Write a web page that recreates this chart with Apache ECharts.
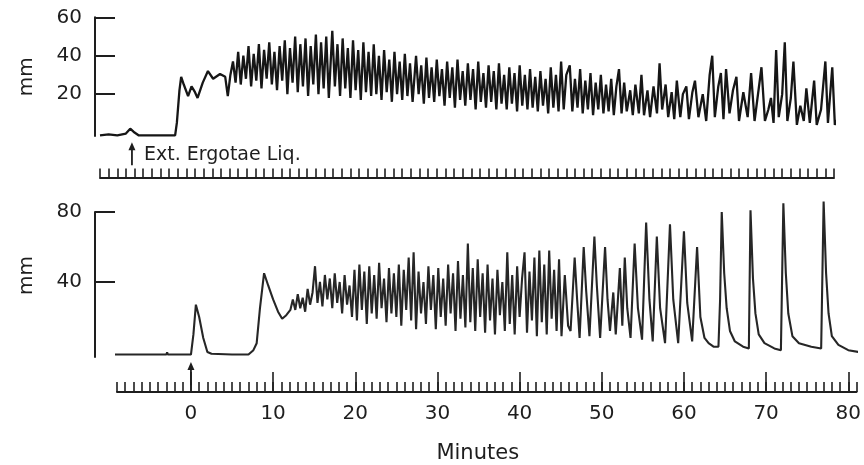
<!DOCTYPE html>
<html>
<head>
<meta charset="utf-8">
<script src="https://cdn.jsdelivr.net/npm/echarts@6/dist/echarts.min.js"></script>
<style>
html,body{margin:0;padding:0;background:#fff;}
#chart{width:864px;height:465px;}
</style>
</head>
<body>
<div id="chart"></div>
<script>
// ---------- DATA ----------
// Top tracing: [time (chart units), mm]
const topTrace = [
 [0,-1.5],[1,-1],[2,-1.5],[3.0,-0.5],[3.5,2],[4.0,0],[4.5,-1.5],[8.7,-1.5],[8.9,5],[9.2,22],[9.4,29],[9.7,25],
 [10.2,19],[10.6,24],[11.0,21],[11.3,18],[11.9,26],[12.5,32],[13.1,28],[13.9,30.5],[14.5,29],[14.8,19],[15.1,30],
 [15.4,37],[15.7,26],[16.0,42],[16.3,25],[16.6,40],[16.9,28],[17.2,45],[17.5,24],[17.8,41],[18.1,27],[18.4,46],[18.7,23],
 [19.0,43],[19.3,28],[19.6,47],[19.9,25],[20.2,42],[20.5,22],[20.8,45],[21.1,27],[21.4,48],[21.7,20],[22.0,44],[22.3,26],
 [22.6,50],[22.9,21],[23.2,46],[23.5,24],[23.8,49],[24.1,19],[24.4,45],[24.7,25],[25.0,51],[25.3,20],[25.6,47],[25.9,23],
 [26.2,50],[26.5,18],[26.9,53],[27.2,24],[27.5,46],[27.8,19],[28.1,49],[28.4,23],[28.7,44],[29.0,18],[29.3,48],[29.6,22],
 [29.9,43],[30.2,17],[30.5,47],[30.8,21],[31.1,42],[31.4,19],[31.7,46],[32.0,20],[32.3,40],[32.6,17],[32.9,43],[33.2,21],
 [33.5,38],[33.8,16],[34.1,42],[34.4,20],[34.7,37],[35.0,17],[35.3,41],[35.6,19],[35.9,36],[36.2,16],[36.6,40],[36.9,20],
 [37.2,35],[37.5,15],[37.8,39],[38.1,18],[38.4,34],[38.7,16],[39.0,38],[39.3,19],[39.6,33],[39.9,14],[40.2,37],[40.5,18],
 [40.8,34],[41.1,13],[41.4,38],[41.7,17],[42.0,32],[42.3,14],[42.6,36],[42.9,17],[43.2,33],[43.5,12],[43.8,37],[44.1,16],
 [44.4,31],[44.7,13],[45.0,35],[45.3,16],[45.6,32],[45.9,12],[46.2,36],[46.5,15],[46.8,30],[47.1,12],[47.4,34],[47.7,15],
 [48.0,31],[48.3,11],[48.6,35],[48.9,14],[49.2,30],[49.5,12],[49.8,33],[50.1,13],[50.4,29],[50.7,11],[51.0,32],[51.3,14],
 [51.6,28],[51.9,10],[52.2,34],[52.5,13],[52.8,30],[53.1,11],[53.4,37],[53.7,12],[54.0,30],[54.4,35],[54.7,11],[55.0,28],
 [55.3,13],[55.6,33],[55.9,10],[56.2,27],[56.5,12],[56.8,31],[57.1,9],[57.4,26],[57.7,12],[58.0,30],[58.3,10],[58.6,25],
 [58.9,11],[59.2,28],[59.5,9],[59.8,24],[60.1,33],[60.4,10],[60.7,26],[61.0,11],[61.4,22],[61.7,9],[62.0,25],[62.4,10],
 [62.7,30],[63.0,9],[63.4,22],[63.7,8],[64.1,24],[64.5,10],[64.8,36],[65.1,12],[65.5,25],[65.8,8],[66.2,21],[66.5,7],
 [66.8,27],[67.2,8],[67.5,20],[67.9,24],[68.2,7],[68.6,21],[68.9,27],[69.3,8],[69.8,20],[70.2,6],[70.6,30],[70.9,40],
 [71.2,8],[71.6,24],[71.9,31],[72.2,7],[72.5,33],[72.9,10],[73.3,22],[73.7,29],[74.0,6],[74.5,21],[75.0,8],[75.4,31],
 [75.8,6],[76.2,20],[76.6,34],[77.0,6],[77.4,12],[77.7,18],[78.0,5],[78.3,43],[78.6,8],[79.0,20],[79.3,47],[79.6,6],
 [80.0,18],[80.3,37],[80.7,4],[81.1,14],[81.5,6],[81.8,23],[82.2,5],[82.7,27],[83.0,4],[83.5,12],[84.0,37],[84.3,5],
 [84.8,34],[85.1,4],[85.6,9],[86.0,7],[86.4,10]
];
// Bottom tracing: [minutes, mm]
const bottomTrace = [
 [-10.5,-1.5],[-6.5,-1.5],[-6.4,-0.5],[-6.3,-1.5],[-3.0,-1.5],[-2.9,-0.3],[-2.8,-1.5],[0,-1.5],[0.3,10],[0.6,27],
 [1.0,20],[1.5,8],[2.0,0],[2.5,-1],[5,-1.5],[7.0,-1.5],[7.6,1],[8.0,5],[8.4,25],[8.9,45],[9.4,38],[10.0,30],[10.6,23],
 [11.1,19],[11.6,21],[12.1,24],
 [12.4,30],[12.7,24],[13.0,33],[13.3,25],[13.6,31],[13.9,23],[14.2,36],[14.5,27],[14.8,34],[15.1,49],[15.4,28],[15.7,40],
 [16.0,26],[16.3,44],[16.6,30],[16.9,42],[17.2,25],[17.5,45],[17.8,28],[18.1,40],[18.4,22],[18.7,44],[19.0,27],[19.3,38],
 [19.6,20],[19.9,47],[20.2,18],[20.5,50],[20.8,24],[21.1,46],[21.4,16],[21.7,49],[22.0,22],[22.3,44],[22.6,19],[22.9,51],
 [23.2,25],[23.5,42],[23.8,17],[24.1,48],[24.4,22],[24.7,45],[25.0,20],[25.3,50],[25.6,15],[25.9,47],[26.2,24],[26.5,54],
 [26.8,18],[27.1,57],[27.4,13],[27.7,46],[28.0,22],[28.3,40],[28.6,16],[28.9,49],[29.2,24],[29.5,44],[29.8,13],[30.1,48],
 [30.4,20],[30.7,42],[31.0,15],[31.3,50],[31.6,22],[31.9,45],[32.2,12],[32.5,52],[32.8,19],[33.1,44],[33.4,14],[33.7,62],
 [34.0,17],[34.3,48],[34.6,12],[34.9,53],[35.2,20],[35.5,45],[35.8,11],[36.1,50],[36.4,18],[36.7,42],[37.0,10],[37.3,47],
 [37.6,21],[37.9,40],[38.2,12],[38.5,57],[38.8,16],[39.1,44],[39.4,10],[39.7,49],[40.0,20],[40.3,42],[40.6,57],[40.9,11],
 [41.2,46],[41.5,18],[41.8,54],[42.1,9],[42.4,58],[42.7,17],[43.0,50],[43.3,10],[43.6,58],[43.9,19],[44.2,47],[44.5,12],
 [44.8,53],[45.1,9],[45.5,44],[45.9,15],
 [46.2,12],[46.7,54],[47.0,30],[47.3,8],[47.8,60],[48.1,35],[48.5,9],[49.1,66],[49.4,38],[49.8,8],[50.4,60],[50.7,30],
 [51.0,12],[51.4,34],[51.7,10],[52.2,48],[52.5,15],[52.8,54],[53.1,25],[53.5,8],[54.0,62],[54.4,25],[54.9,7],[55.4,74],
 [55.8,30],[56.2,6],[56.7,66],[57.1,25],[57.7,5],[58.3,73],[58.7,30],[59.3,5],[60.0,69],[60.4,28],[61.0,6],[61.6,60],
 [62.0,20],[62.5,8],[63.0,5],[63.6,3],[64.2,3],[64.4,30],[64.6,80],[64.9,45],[65.2,25],[65.6,12],[66.2,6],[67.2,3],
 [67.9,2],[68.1,81],[68.4,42],[68.7,22],[69.1,10],[69.8,5],[71.0,2],[71.8,1],[72.1,85],[72.4,45],[72.7,22],[73.2,9],
 [74.0,5],[75.5,3],[76.7,2],[77.0,86],[77.3,45],[77.6,22],[78.0,9],[78.8,4],[80.0,1],[81.2,0]
];
const topYTicks = [20, 40, 60];
const bottomYTicks = [40, 80];
const bottomXLabels = [0, 10, 20, 30, 40, 50, 60, 70, 80];
const topArrowAt = 3.7;      // chart units, top panel
const bottomArrowAt = 0;     // minutes, bottom panel
const annotation = 'Ext. Ergotae Liq.';

// ---------- CHART ----------
const FONT = 'DejaVu Sans';
const INK = '#1e1e1e';
function range(a, b) { const r = []; for (let v = a; v <= b; v++) r.push(v); return r; }

const chart = echarts.init(document.getElementById('chart'));
const yAxisBase = {
  type: 'value', position: 'left',
  axisLine: { show: true, onZero: false, lineStyle: { color: INK, width: 2 } },
  axisTick: { show: true, inside: true, length: 20, lineStyle: { color: INK, width: 2 } },
  axisLabel: { color: INK, fontFamily: FONT, fontSize: 20, margin: 13 },
  splitLine: { show: false },
  name: 'mm', nameLocation: 'middle', nameRotate: 90,
  nameTextStyle: { color: INK, fontFamily: FONT, fontSize: 20 }
};
chart.setOption({
  animation: false,
  backgroundColor: '#ffffff',
  grid: [
    { left: 100, width: 734, top: 17.3, height: 118.7 },
    { left: 117, width: 740, top: 212, height: 145 }
  ],
  xAxis: [
    { type: 'value', gridIndex: 0, position: 'bottom', min: 0, max: 85, offset: 41.5,
      axisLine: { onZero: false, lineStyle: { color: INK, width: 2 } },
      axisTick: { inside: true, length: 9, customValues: range(0, 85), lineStyle: { color: INK, width: 1.6 } },
      axisLabel: { show: false }, splitLine: { show: false } },
    { type: 'value', gridIndex: 1, position: 'bottom', min: -9, max: 81, offset: 35,
      axisLine: { onZero: false, lineStyle: { color: INK, width: 2 } },
      axisTick: { inside: true, length: 10, customValues: range(-9, 81), lineStyle: { color: INK, width: 1.6 } },
      axisLabel: { show: false }, splitLine: { show: false } },
    { type: 'value', gridIndex: 1, position: 'bottom', min: -9, max: 81, offset: 35,
      axisLine: { show: false, onZero: false },
      axisTick: { inside: true, length: 20, customValues: bottomXLabels, lineStyle: { color: INK, width: 1.6 } },
      axisLabel: { customValues: bottomXLabels, color: INK, fontFamily: FONT, fontSize: 20, margin: 12 },
      splitLine: { show: false },
      name: 'Minutes', nameLocation: 'middle', nameGap: 51,
      nameTextStyle: { color: INK, fontFamily: FONT, fontSize: 21, padding: [0, 18, 0, 0] } }
  ],
  yAxis: [
    Object.assign({}, yAxisBase, { gridIndex: 0, min: -1.8, max: 60, offset: 5, nameGap: 58,
      axisTick: Object.assign({}, yAxisBase.axisTick, { customValues: topYTicks }),
      axisLabel: Object.assign({}, yAxisBase.axisLabel, { customValues: topYTicks }) }),
    Object.assign({}, yAxisBase, { gridIndex: 1, min: -2.9, max: 80, offset: 22, nameGap: 58,
      nameTextStyle: Object.assign({}, yAxisBase.nameTextStyle, { padding: [0, 0, 0, 18] }),
      axisTick: Object.assign({}, yAxisBase.axisTick, { customValues: bottomYTicks }),
      axisLabel: Object.assign({}, yAxisBase.axisLabel, { customValues: bottomYTicks }) })
  ],
  series: [
    { type: 'line', xAxisIndex: 0, yAxisIndex: 0, data: topTrace, showSymbol: false, clip: false,
      lineStyle: { color: '#161616', width: 2.3 } },
    { type: 'line', xAxisIndex: 1, yAxisIndex: 1, data: bottomTrace, showSymbol: false, clip: false,
      lineStyle: { color: '#262626', width: 2.1 } }
  ]
});

// annotation arrows (positions derived through the axes)
const tA = chart.convertToPixel({ gridIndex: 0 }, [topArrowAt, -5]);
const tB = chart.convertToPixel({ gridIndex: 0 }, [topArrowAt, -17]);
const bA = chart.convertToPixel({ gridIndex: 1 }, [bottomArrowAt, -5.8]);
const bB = chart.convertToPixel({ gridIndex: 1 }, [bottomArrowAt, -19]);
function arrow(head, tail) {
  return [
    { type: 'line', shape: { x1: head[0], y1: head[1] + 5, x2: tail[0], y2: tail[1] }, style: { stroke: INK, lineWidth: 1.8 } },
    { type: 'polygon', shape: { points: [[head[0], head[1]], [head[0] - 3.5, head[1] + 8], [head[0] + 3.5, head[1] + 8]] }, style: { fill: INK } }
  ];
}
chart.setOption({
  graphic: [].concat(arrow(tA, tB), arrow(bA, bB), [
    { type: 'text', x: tA[0] + 12, y: (tA[1] + tB[1]) / 2 + 1, style: { text: annotation, fill: INK, font: '19px "DejaVu Sans"', textVerticalAlign: 'middle' } }
  ])
});
</script>
</body>
</html>
